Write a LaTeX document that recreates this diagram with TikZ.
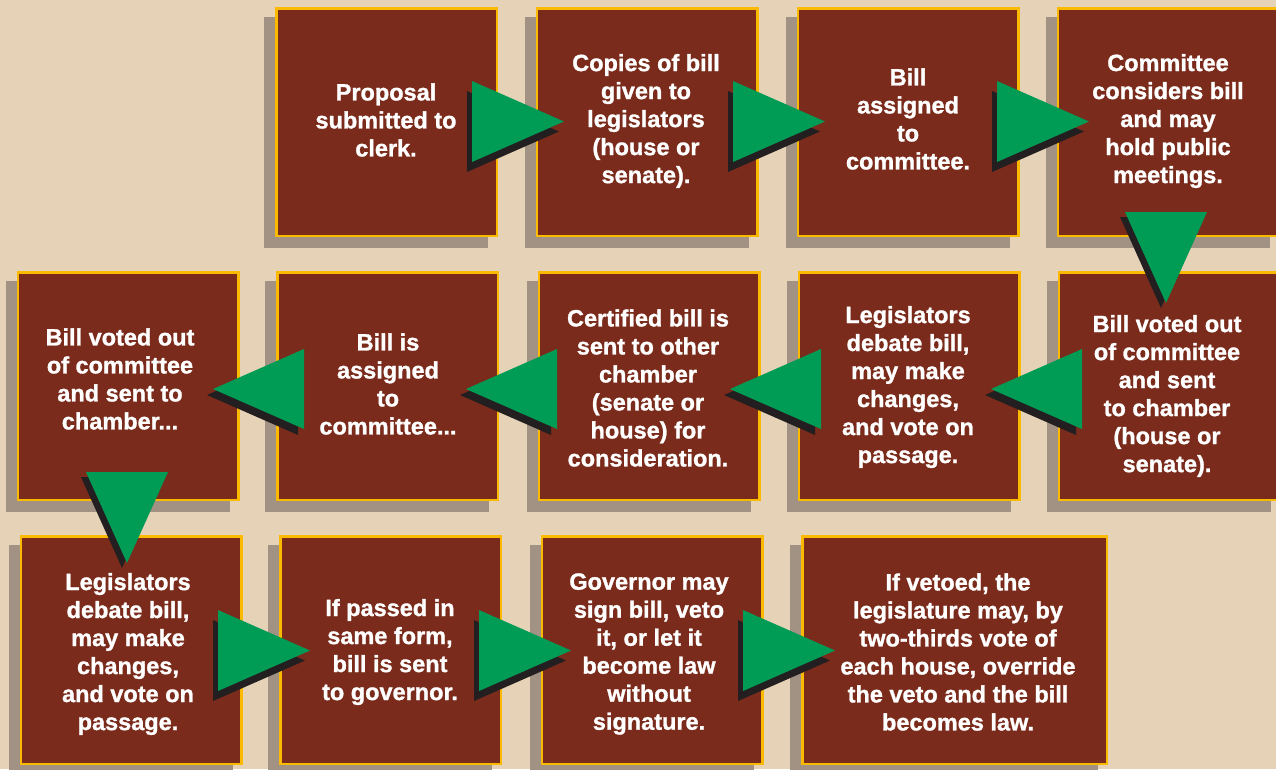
\documentclass[tikz,border=0pt]{standalone}
\usepackage{fontspec}
\setmainfont{Liberation Sans}[BoldFeatures={FakeBold=1.2}]
\usetikzlibrary{calc}
\pgfdeclarelayer{back}
\pgfsetlayers{back,main}
\definecolor{bg}{RGB}{230,211,183}
\definecolor{boxc}{RGB}{122,43,27}
\definecolor{gold}{RGB}{251,185,0}
\definecolor{shadowc}{RGB}{162,146,131}
\definecolor{arrowc}{RGB}{0,155,85}
\definecolor{arrowsh}{RGB}{35,31,32}
\tikzset{
  stepbox/.style={rectangle, draw=gold, fill=boxc, line width=2.5pt,
    minimum width=220.5pt, minimum height=227.5pt, inner sep=0pt, outer sep=0pt},
  txt/.style={text=white, align=center, inner sep=0pt,
    font=\fontsize{23.5}{28}\selectfont\bfseries},
  rtri/.pic={
    \fill[arrowsh] (-5,-30.5) -- (87,10) -- (-5,50.5) -- cycle;
    \fill[arrowc] (0,-40.5) -- (92,0) -- (0,40.5) -- cycle;
  },
  ltri/.pic={
    \fill[arrowsh] (-6,-34) -- (-97,6) -- (-6,46) -- cycle;
    \fill[arrowc] (0,-40) -- (-91,0) -- (0,40) -- cycle;
  },
  dtri/.pic={
    \fill[arrowsh] (-46,5) -- (36,5) -- (-5,96) -- cycle;
    \fill[arrowc] (-41,0) -- (41,0) -- (0,91) -- cycle;
  }
}
\begin{document}
\begin{tikzpicture}[x=1pt, y=-1pt]
\useasboundingbox (0,0) rectangle (1276,769);
% boxes
\node[stepbox] (b1) at (386.5,122) {};
\node[stepbox] (b2) at (647,122) {};
\node[stepbox] (b3) at (908,122) {};
\node[stepbox] (b4) at (1168,122) {};
\node[stepbox] (b5) at (1169,386) {};
\node[stepbox] (b6) at (909,386) {};
\node[stepbox] (b7) at (649,386) {};
\node[stepbox] (b8) at (387.5,386) {};
\node[stepbox] (b9) at (128,386) {};
\node[stepbox] (b10) at (131,650) {};
\node[stepbox] (b11) at (390.5,650) {};
\node[stepbox] (b12) at (652,650) {};
\node[stepbox, minimum width=304.5pt] (b13) at (954.5,650) {};
\begin{pgfonlayer}{back}
  \fill[bg] (0,0) rectangle (1276,769);
  \foreach \b in {b1,b2,b3,b4,b5,b6,b7,b8,b9,b10,b11,b12,b13}
    \fill[shadowc] ($(\b.north west)+(-12.25,8.75)$) rectangle ($(\b.south east)+(-8.75,12.25)$);
\end{pgfonlayer}
% texts
\node[txt] (t1) at (386,120) {Proposal\\submitted to\\clerk.};
\node[txt] (t2) at (646,121) {Copies of bill\\given to\\legislators\\(house or\\senate).};
\node[txt] (t3) at (908,119) {Bill\\assigned\\to\\committee.};
\node[txt] (t4) at (1168,121) {Committee\\considers bill\\and may\\hold public\\meetings.};
\node[txt] (t5) at (1167,396) {Bill voted out\\of committee\\and sent\\to chamber\\(house or\\senate).};
\node[txt] (t6) at (908,387) {Legislators\\debate bill,\\may make\\changes,\\and vote on\\passage.};
\node[txt] (t7) at (648,388) {Certified bill is\\sent to other\\chamber\\(senate or\\house) for\\consideration.};
\node[txt] (t8) at (388,384) {Bill is\\assigned\\to\\committee...};
\node[txt] (t9) at (120,379) {Bill voted out\\of committee\\and sent to\\chamber...};
\node[txt] (t10) at (128,654) {Legislators\\debate bill,\\may make\\changes,\\and vote on\\passage.};
\node[txt] (t11) at (390,652) {If passed in\\same form,\\bill is sent\\to governor.};
\node[txt] (t12) at (649,654) {Governor may\\sign bill, veto\\it, or let it\\become law\\without\\signature.};
\node[txt] (t13) at (958,652) {If vetoed, the\\legislature may, by\\two-thirds vote of\\each house, override\\the veto and the bill\\becomes law.};
% arrows
\pic at (472,121.5) {rtri};
\pic at (733,121.5) {rtri};
\pic at (997,121.5) {rtri};
\pic at (1166,212) {dtri};
\pic at (1082,389) {ltri};
\pic at (821,389) {ltri};
\pic at (557,389) {ltri};
\pic at (304,389) {ltri};
\pic at (127,472) {dtri};
\pic at (218,650.5) {rtri};
\pic at (479,650.5) {rtri};
\pic at (743,650.5) {rtri};
\end{tikzpicture}
\end{document}
